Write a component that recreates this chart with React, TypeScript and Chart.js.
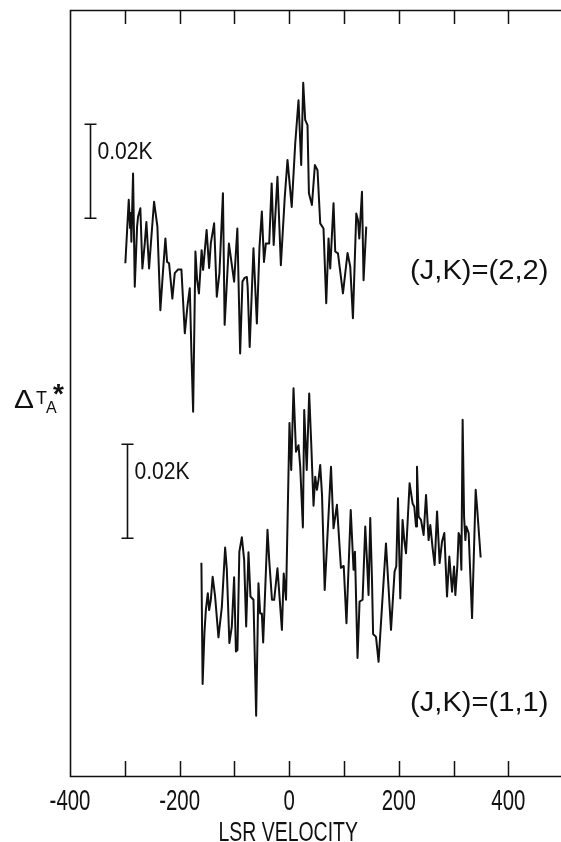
import React, { useEffect, useRef } from "react";
import { Chart, registerables } from "chart.js";

Chart.register(...registerables);

// Axis ranges: LSR velocity (km/s) and stacked antenna temperature (mK)
const X_MIN = -400;
const X_MAX = 496;
const Y_MIN = 0;
const Y_MAX = 163;

const labelTickValues = [-400, -200, 0, 200, 400];
const tickLabels = ["-400", "-200", "0", "200", "400"];
const tickMarkValues = [-300, -200, -100, 0, 100, 200, 300, 400];

// (J,K)=(2,2) spectrum: velocity (km/s) and ΔT (mK)
const vel22 = [
  -299.0, -292.8, -290.4, -289.1, -288.0, -284.9, -281.8, -277.6, -275.8, -271.6,
  -267.9, -263.6, -260.6, -255.7, -251.5, -246.6, -240.5, -235.1, -230.1, -225.9,
  -222.8, -219.2, -213.2, -208.8, -202.7, -196.7, -190.5, -185.8, -181.4, -178.4,
  -175.3, -171.1, -168.0, -164.7, -159.8, -157.1, -150.7, -146.1, -143.0, -137.0,
  -132.1, -127.3, -120.9, -117.8, -110.0, -100.5, -94.6, -89.5, -85.3, -81.3,
  -77.3, -75.8, -72.1, -65.2, -59.0, -54.2, -49.9, -46.0, -42.6, -36.5,
  -32.0, -28.3, -21.4, -15.2, -8.2, -3.1, 4.6, 11.0, 17.0, 21.9,
  25.6, 29.2, 33.4, 36.0, 41.5, 46.9, 51.7, 56.6, 62.6, 67.6,
  71.8, 74.9, 80.9, 84.0, 89.0, 98.1, 106.5, 111.4, 116.3, 122.4,
  125.5, 127.9, 132.8, 135.7, 140.6,
];
const dT22 = [
  -0.9, 12.6, 6.6, 9.8, 3.7, 18.2, -5.9, 6.9, 9.0, 10.8,
  -2.0, 3.3, 7.9, -2.0, 4.7, 12.2, 6.9, -10.9, -2.3, 4.4,
  -0.6, -0.9, -8.4, -3.0, -2.2, -2.2, -15.8, -10.1, -6.2, -20.1,
  -32.5, 1.6, -4.5, -7.3, 1.9, -2.3, 6.2, -1.9, 3.4, 7.6,
  -8.0, -3.0, 14.0, -14.0, 3.3, -4.8, 6.5, -20.1, -4.8, -4.0,
  -3.8, -5.9, -18.7, 2.3, -13.7, 2.6, 10.1, -0.6, 3.3, 3.3,
  16.1, 3.0, 17.5, -1.3, 13.0, 21.1, 11.1, 24.6, 33.8, 20.0,
  37.5, 29.6, 28.5, 14.0, 11.5, 20.0, 18.9, 7.6, 6.5, -9.4,
  4.4, -2.0, 11.9, 1.6, 1.2, -7.3, 1.3, -1.6, -12.6, 9.7,
  8.3, 4.4, 14.3, -4.5, 6.9,
];

// (J,K)=(1,1) spectrum: velocity (km/s) and ΔT (mK)
const vel11 = [
  -160.2, -158.0, -154.7, -152.1, -148.5, -146.1, -143.0, -139.7, -135.2, -129.1,
  -122.9, -116.9, -113.8, -109.2, -104.7, -100.5, -97.2, -94.4, -91.0, -86.4,
  -82.2, -78.5, -74.3, -70.7, -65.2, -60.3, -56.1, -53.0, -49.9, -47.5,
  -39.6, -36.5, -31.4, -27.4, -21.4, -13.3, -10.0, -5.8, 0.5, 3.7,
  7.9, 12.4, 17.0, 20.1, 25.0, 27.4, 32.0, 36.5, 40.2, 44.4,
  47.5, 50.6, 53.5, 56.6, 59.9, 64.8, 76.3, 80.9, 87.1, 94.4,
  99.5, 104.5, 112.3, 117.4, 120.0, 124.7, 128.4, 133.9, 138.8, 141.9,
  144.8, 147.9, 151.1, 153.1, 158.4, 163.1, 169.3, 176.6, 185.8, 192.3,
  195.4, 198.5, 202.7, 206.9, 210.0, 213.2, 219.7, 225.2, 228.3, 231.4,
  233.2, 236.2, 240.5, 245.3, 249.7, 254.4, 257.5, 261.7, 265.4, 269.8,
  274.5, 278.9, 283.1, 288.0, 292.2, 297.2, 300.8, 303.2, 306.8, 309.2,
  311.8, 314.2, 316.5, 319.1, 321.5, 323.3, 327.5, 333.7, 340.3, 342.8, 349.4,
];
const dT11 = [
  12.4, -13.4, -2.6, 2.3, 5.9, 2.3, 4.5, 9.4, 5.2, -3.5,
  3.0, 15.6, 10.9, -4.7, -1.2, 9.3, -6.5, -6.2, 14.7, 17.8,
  13.0, -1.2, 14.6, 5.2, 4.5, -20.2, 8.0, 1.6, 1.6, -4.6,
  19.4, 13.0, 4.5, 4.5, 11.2, -1.9, 10.1, 4.5, 42.1, 32.1,
  49.5, 36.0, 37.4, 32.8, 19.9, 44.9, 32.1, 48.4, 37.8, 24.5,
  30.7, 27.9, 30.0, 33.2, 26.8, 6.6, 32.8, 19.7, 24.7, 11.3,
  11.7, -0.5, 23.6, 10.9, 14.7, -7.9, 4.1, 4.5, 20.1, 13.0,
  5.5, 21.9, 8.7, -2.8, -3.4, -8.7, 3.0, 16.5, -1.9, 10.5,
  11.6, 26.1, 4.8, 21.5, 17.2, 14.4, 29.3, 25.0, 24.3, 20.1,
  32.8, 22.2, 21.5, 18.3, 26.8, 17.2, 20.4, 15.5, 11.9, 23.3,
  12.3, 16.9, 18.7, 5.2, 13.7, 6.2, 11.6, 5.5, 11.6, 18.7,
  17.9, 10.9, 42.8, 22.2, 17.2, 20.1, 18.7, 0.6, 27.9, 24.3, 13.5,
];

// Vertical offsets of the two stacked spectra (mK)
const OFFSET22 = 110;
const OFFSET11 = 33;

// 0.02 K scale bars (20 mK)
const SCALE_BAR_MK = 20;
const bar22 = { vel: -364, base: 118.7 };
const bar11 = { vel: -296, base: 50.6 };

const INK = "#111111";
const FONT = '"Liberation Sans", Arial, sans-serif';

function drawText(
  ctx: CanvasRenderingContext2D,
  s: string,
  x: number,
  y: number,
  size: number,
  opts: { sx?: number; align?: CanvasTextAlign; bold?: boolean } = {}
) {
  const sx = opts.sx ?? 1;
  ctx.save();
  ctx.translate(x, y);
  ctx.scale(sx, 1);
  ctx.font = `${opts.bold ? "bold " : ""}${size}px ${FONT}`;
  ctx.textAlign = opts.align ?? "left";
  ctx.textBaseline = "alphabetic";
  ctx.fillStyle = INK;
  ctx.fillText(s, 0, 0);
  ctx.restore();
}

const framePlugin = {
  id: "frame",
  afterDatasetsDraw(chart: any) {
    const { ctx, chartArea, scales } = chart;
    const { left, right, top, bottom } = chartArea;
    const x = scales.x;
    const y = scales.y;
    ctx.save();
    ctx.strokeStyle = INK;
    ctx.lineWidth = 1.6;
    ctx.beginPath();
    ctx.moveTo(right, top + 0.5);
    ctx.lineTo(left + 0.5, top + 0.5);
    ctx.lineTo(left + 0.5, bottom + 0.5);
    ctx.lineTo(right, bottom + 0.5);
    ctx.stroke();

    ctx.lineWidth = 1.5;
    ctx.beginPath();
    tickMarkValues.forEach((v) => {
      const px = Math.round(x.getPixelForValue(v)) + 0.5;
      ctx.moveTo(px, bottom);
      ctx.lineTo(px, bottom - 15);
      ctx.moveTo(px, top);
      ctx.lineTo(px, top + 14);
    });
    ctx.stroke();

    // tick labels
    labelTickValues.forEach((v, i) => {
      drawText(ctx, tickLabels[i], x.getPixelForValue(v), bottom + 34, 30, { sx: 0.68, align: "center" });
    });
    drawText(ctx, "LSR VELOCITY", x.getPixelForValue(0) - 1, bottom + 65, 27, { sx: 0.72, align: "center" });

    // scale bars
    const bars = [bar22, bar11];
    ctx.lineWidth = 1.6;
    bars.forEach((b) => {
      const px = Math.round(x.getPixelForValue(b.vel)) + 0.5;
      const y0 = y.getPixelForValue(b.base);
      const y1 = y.getPixelForValue(b.base + SCALE_BAR_MK);
      ctx.beginPath();
      ctx.moveTo(px, y0);
      ctx.lineTo(px, y1);
      ctx.moveTo(px - 6, y0);
      ctx.lineTo(px + 6, y0);
      ctx.moveTo(px - 6, y1);
      ctx.lineTo(px + 6, y1);
      ctx.stroke();
      drawText(ctx, "0.02K", px + 7, y1 + 35, 24, { sx: 0.88 });
    });

    // y-axis label ΔT_A*
    drawText(ctx, "Δ", 14, 408, 26, { sx: 1.15 });
    drawText(ctx, "T", 36, 404, 18);
    drawText(ctx, "A", 46, 413, 16);
    drawText(ctx, "*", 53, 403, 28, { bold: true });

    // transition labels
    drawText(ctx, "(J,K)=(2,2)", 410, 279, 27, { sx: 1.08 });
    drawText(ctx, "(J,K)=(1,1)", 410, 711, 27, { sx: 1.08 });
    ctx.restore();
  },
};

export default function App() {
  const canvasRef = useRef<HTMLCanvasElement | null>(null);

  useEffect(() => {
    const canvas = canvasRef.current;
    if (!canvas) return;
    const chart = new Chart(canvas, {
      type: "line",
      data: {
        datasets: [
          {
            label: "(J,K)=(2,2)",
            data: vel22.map((v, i) => ({ x: v, y: dT22[i] + OFFSET22 })),
            borderColor: INK,
            borderWidth: 2,
            pointRadius: 0,
            tension: 0,
            fill: false,
            borderJoinStyle: "round",
          },
          {
            label: "(J,K)=(1,1)",
            data: vel11.map((v, i) => ({ x: v, y: dT11[i] + OFFSET11 })),
            borderColor: INK,
            borderWidth: 2,
            pointRadius: 0,
            tension: 0,
            fill: false,
            borderJoinStyle: "round",
          },
        ],
      },
      options: {
        animation: false,
        responsive: false,
        maintainAspectRatio: false,
        events: [],
        layout: { padding: { left: 70, right: 0, top: 10, bottom: 66 } },
        scales: {
          x: { type: "linear", min: X_MIN, max: X_MAX, display: false },
          y: { type: "linear", min: Y_MIN, max: Y_MAX, display: false },
        },
        plugins: { legend: { display: false }, tooltip: { enabled: false } },
      },
      plugins: [framePlugin],
    } as any);
    return () => chart.destroy();
  }, []);

  return (
    <div style={{ position: "absolute", left: 0, top: 0, width: 561, height: 842, background: "#fff" }}>
      <canvas ref={canvasRef} width={561} height={842} style={{ display: "block" }} />
    </div>
  );
}
